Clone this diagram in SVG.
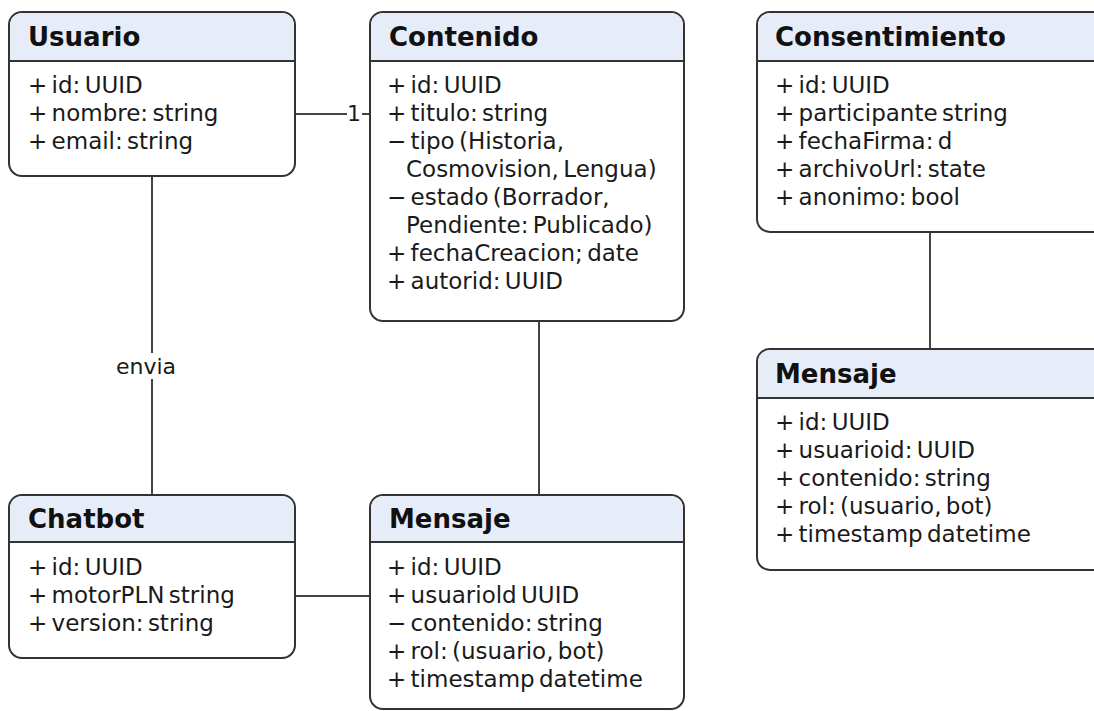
<svg xmlns="http://www.w3.org/2000/svg" width="1094" height="711" viewBox="0 0 1094 711">
<style>
.box{fill:#ffffff;stroke:#333333;stroke-width:2}
.hdr{fill:#e7edf8}
.div{stroke:#333333;stroke-width:2}
.title{font-family:"DejaVu Sans",Verdana,sans-serif;font-weight:bold;font-size:26px;fill:#111111}
.attr{font-family:"DejaVu Sans",Verdana,sans-serif;font-size:23px;word-spacing:-3px;fill:#1a1a1a}
.conn{stroke:#444444;stroke-width:2;fill:none}
.lbl{font-family:"DejaVu Sans",Verdana,sans-serif;font-size:22px;fill:#1a1a1a}
</style>
<rect width="1094" height="711" fill="#ffffff"/>
<g id="connectors">
  <line class="conn" x1="295" y1="114" x2="347" y2="114"/>
  <line class="conn" x1="362" y1="114" x2="370" y2="114"/>
  <text class="lbl" x="347" y="121">1</text>
  <line class="conn" x1="152" y1="176" x2="152" y2="353"/>
  <line class="conn" x1="152" y1="379" x2="152" y2="495"/>
  <text class="lbl" x="116" y="374">envia</text>
  <line class="conn" x1="539" y1="321" x2="539" y2="495"/>
  <line class="conn" x1="295" y1="596" x2="370" y2="596"/>
  <line class="conn" x1="930" y1="232" x2="930" y2="349"/>
</g>
<g id="usuario">
  <rect class="box" x="9" y="12" width="286" height="164" rx="13"/>
  <path class="hdr" d="M22,13 H282 A12,12 0 0 1 294,25 V60 H10 V25 A12,12 0 0 1 22,13 Z"/>
  <line class="div" x1="9" y1="61" x2="295" y2="61"/>
  <text class="title" x="28" y="46">Usuario</text>
  <text class="attr" x="28" y="93">+ id: UUID</text>
  <text class="attr" x="28" y="121">+ nombre: string</text>
  <text class="attr" x="28" y="149">+ email: string</text>
</g>
<g id="contenido">
  <rect class="box" x="370" y="12" width="314" height="309" rx="13"/>
  <path class="hdr" d="M383,13 H671 A12,12 0 0 1 683,25 V60 H371 V25 A12,12 0 0 1 383,13 Z"/>
  <line class="div" x1="370" y1="61" x2="684" y2="61"/>
  <text class="title" x="389" y="46">Contenido</text>
  <text class="attr" x="387" y="93">+ id: UUID</text>
  <text class="attr" x="387" y="121">+ titulo: string</text>
  <text class="attr" x="387" y="149">− tipo (Historia,</text>
  <text class="attr" x="406" y="177">Cosmovision, Lengua)</text>
  <text class="attr" x="387" y="205">− estado (Borrador,</text>
  <text class="attr" x="406" y="233">Pendiente: Publicado)</text>
  <text class="attr" x="387" y="261">+ fechaCreacion; date</text>
  <text class="attr" x="387" y="289">+ autorid: UUID</text>
</g>
<g id="consentimiento">
  <rect class="box" x="757" y="12" width="350" height="220" rx="13"/>
  <path class="hdr" d="M770,13 H1106 V60 H758 V25 A12,12 0 0 1 770,13 Z"/>
  <line class="div" x1="757" y1="61" x2="1094" y2="61"/>
  <text class="title" x="775" y="46">Consentimiento</text>
  <text class="attr" x="775" y="93">+ id: UUID</text>
  <text class="attr" x="775" y="121">+ participante string</text>
  <text class="attr" x="775" y="149">+ fechaFirma: d</text>
  <text class="attr" x="775" y="177">+ archivoUrl: state</text>
  <text class="attr" x="775" y="205">+ anonimo: bool</text>
</g>
<g id="mensaje-right">
  <rect class="box" x="757" y="349" width="350" height="221" rx="13"/>
  <path class="hdr" d="M770,350 H1106 V397 H758 V362 A12,12 0 0 1 770,350 Z"/>
  <line class="div" x1="757" y1="398" x2="1094" y2="398"/>
  <text class="title" x="775" y="383">Mensaje</text>
  <text class="attr" x="775" y="430">+ id: UUID</text>
  <text class="attr" x="775" y="458">+ usuarioid: UUID</text>
  <text class="attr" x="775" y="486">+ contenido: string</text>
  <text class="attr" x="775" y="514">+ rol: (usuario, bot)</text>
  <text class="attr" x="775" y="542">+ timestamp datetime</text>
</g>
<g id="chatbot">
  <rect class="box" x="9" y="495" width="286" height="163" rx="13"/>
  <path class="hdr" d="M22,496 H282 A12,12 0 0 1 294,508 V541 H10 V508 A12,12 0 0 1 22,496 Z"/>
  <line class="div" x1="9" y1="542" x2="295" y2="542"/>
  <text class="title" x="28" y="528">Chatbot</text>
  <text class="attr" x="28" y="575">+ id: UUID</text>
  <text class="attr" x="28" y="603">+ motorPLN string</text>
  <text class="attr" x="28" y="631">+ version: string</text>
</g>
<g id="mensaje-bottom">
  <rect class="box" x="370" y="495" width="314" height="214" rx="13"/>
  <path class="hdr" d="M383,496 H671 A12,12 0 0 1 683,508 V541 H371 V508 A12,12 0 0 1 383,496 Z"/>
  <line class="div" x1="370" y1="542" x2="684" y2="542"/>
  <text class="title" x="389" y="528">Mensaje</text>
  <text class="attr" x="387" y="575">+ id: UUID</text>
  <text class="attr" x="387" y="603">+ usuariold UUID</text>
  <text class="attr" x="387" y="631">− contenido: string</text>
  <text class="attr" x="387" y="659">+ rol: (usuario, bot)</text>
  <text class="attr" x="387" y="687">+ timestamp datetime</text>
</g>
</svg>
